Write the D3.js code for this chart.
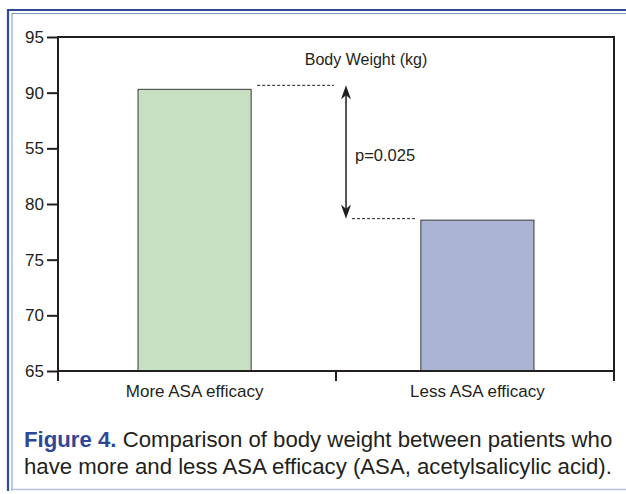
<!DOCTYPE html>
<html>
<head>
<meta charset="utf-8">
<script src="https://cdn.jsdelivr.net/npm/d3@7"></script>
<style>
  body { margin: 0; background: #fff; }
  svg { display: block; font-family: "Liberation Sans", Arial, sans-serif; }
</style>
</head>
<body>
<svg id="chart" width="626" height="494"></svg>
<script>
// Chart data
var categories = ["More ASA efficacy", "Less ASA efficacy"];
var weights = [90.3, 78.55];
var barColors = ["#c7e0c2", "#abb5d3"];
var yTicks = [65, 70, 75, 80, 85, 90, 95];
var yTickLabels = ["65", "70", "75", "80", "55", "90", "95"]; // as printed in the figure
var chartTitle = "Body Weight (kg)";
var pLabel = "p=0.025";

const width = 626;
const height = 494;

var svg = d3.select("#chart");

/**** Frame ****/
svg.append("line").attr("x1", 8).attr("x2", width).attr("y1", 10).attr("y2", 10)
    .attr("stroke", "#2d4a9c").attr("stroke-width", 2.2);
svg.append("line").attr("x1", 12).attr("x2", width).attr("y1", 13.5).attr("y2", 13.5)
    .attr("stroke", "#7c93cc").attr("stroke-width", 1);
svg.append("line").attr("x1", 8).attr("x2", 8).attr("y1", 9).attr("y2", 491)
    .attr("stroke", "#2d4a9c").attr("stroke-width", 2.2);
svg.append("line").attr("x1", 12).attr("x2", 12).attr("y1", 13).attr("y2", 491)
    .attr("stroke", "#7c93cc").attr("stroke-width", 1);
svg.append("line").attr("x1", 12).attr("x2", width).attr("y1", 489.5).attr("y2", 489.5)
    .attr("stroke", "#b7c3e3").attr("stroke-width", 1.5);

/**** Scales ****/
var plotLeft = 58, plotRight = 614, plotTop = 37, plotBottom = 371;

var yScale = d3.scaleLinear()
    .domain([65, 95])
    .range([plotBottom, plotTop]);

var xScale = d3.scaleBand()
    .domain(categories)
    .range([plotLeft, plotRight])
    .paddingInner(0.6)
    .paddingOuter(0.283);

var axisColor = "#231f20";
var textColor = "#231f20";

/**** Bars ****/
var chart = svg.append("g");

chart.selectAll(".bar")
    .data(categories)
    .enter()
    .append("rect")
    .attr("class", "bar")
    .attr("x", function(d) { return xScale(d); })
    .attr("y", function(d, i) { return yScale(weights[i]); })
    .attr("width", xScale.bandwidth())
    .attr("height", function(d, i) { return yScale(65) - yScale(weights[i]); })
    .attr("fill", function(d, i) { return barColors[i]; })
    .attr("stroke", "#3a3a3a")
    .attr("stroke-width", 1);

/**** Plot box ****/
chart.append("line").attr("x1", plotLeft).attr("x2", plotRight)
    .attr("y1", plotTop).attr("y2", plotTop)
    .attr("stroke", axisColor).attr("stroke-width", 2);
chart.append("line").attr("x1", plotRight).attr("x2", plotRight)
    .attr("y1", plotTop - 1).attr("y2", plotBottom + 10)
    .attr("stroke", axisColor).attr("stroke-width", 2);
chart.append("line").attr("x1", plotLeft).attr("x2", plotRight)
    .attr("y1", plotBottom).attr("y2", plotBottom)
    .attr("stroke", axisColor).attr("stroke-width", 2);

/**** Y Left Axis ****/
var yAxis = d3.axisLeft(yScale)
    .tickValues(yTicks)
    .tickSize(11)
    .tickPadding(3)
    .tickSizeOuter(0)
    .tickFormat(function(d, i) { return yTickLabels[i]; });

var yG = chart.append("g")
    .attr("transform", "translate(" + plotLeft + ",0)")
    .call(yAxis);
yG.select(".domain").remove();
yG.selectAll("line").attr("stroke", axisColor).attr("stroke-width", 2);
yG.selectAll("text").attr("font-size", 17).attr("fill", textColor)
    .attr("font-family", "Liberation Sans, Arial, sans-serif");
chart.append("line").attr("x1", plotLeft).attr("x2", plotLeft)
    .attr("y1", plotTop - 1).attr("y2", plotBottom + 10)
    .attr("stroke", axisColor).attr("stroke-width", 2);

/**** X Bottom Axis: tick between the two categories ****/
var midX = (xScale(categories[0]) + xScale(categories[1]) + xScale.bandwidth()) / 2;
chart.append("line")
    .attr("x1", midX).attr("x2", midX)
    .attr("y1", plotBottom)
    .attr("y2", plotBottom + 10)
    .attr("stroke", axisColor).attr("stroke-width", 2);

chart.selectAll(".xlabel")
    .data(categories)
    .enter()
    .append("text")
    .attr("x", function(d) { return xScale(d) + xScale.bandwidth() / 2; })
    .attr("y", plotBottom + 26)
    .attr("text-anchor", "middle")
    .attr("font-size", 17)
    .attr("fill", textColor)
    .text(function(d) { return d; });

/**** Annotation ****/
chart.append("text")
    .attr("x", midX + 30)
    .attr("y", yScale(93) + 6)
    .attr("text-anchor", "middle")
    .attr("font-size", 16)
    .attr("fill", textColor)
    .text(chartTitle);

var arrowX = midX + 10;
var yHigh = yScale(weights[0]) - 4;
var yLow = yScale(weights[1]) - 1.5;

chart.append("line")
    .attr("x1", xScale(categories[0]) + xScale.bandwidth() + 6)
    .attr("x2", arrowX - 12)
    .attr("y1", yHigh).attr("y2", yHigh)
    .attr("stroke", textColor).attr("stroke-width", 1)
    .attr("stroke-dasharray", "3,2");
chart.append("line")
    .attr("x1", arrowX + 6)
    .attr("x2", xScale(categories[1]) - 4)
    .attr("y1", yLow).attr("y2", yLow)
    .attr("stroke", textColor).attr("stroke-width", 1)
    .attr("stroke-dasharray", "3,2");

chart.append("line")
    .attr("x1", arrowX).attr("x2", arrowX)
    .attr("y1", yHigh + 8).attr("y2", yLow - 8)
    .attr("stroke", textColor).attr("stroke-width", 1.5);

function arrowHead(y, dir) {
    var p = [[arrowX, y], [arrowX - 5, y + dir * 14], [arrowX, y + dir * 10], [arrowX + 5, y + dir * 14]];
    chart.append("path")
        .attr("d", d3.line()(p) + "Z")
        .attr("fill", textColor);
}
arrowHead(yHigh, 1);
arrowHead(yLow, -1);

chart.append("text")
    .attr("x", arrowX + 9)
    .attr("y", (yHigh + yLow) / 2 + 9)
    .attr("font-size", 16.5)
    .attr("fill", textColor)
    .text(pLabel);

/**** Caption ****/
var cap1 = svg.append("text")
    .attr("x", 24).attr("y", 447)
    .attr("font-size", 22.2)
    .attr("fill", "#231f20");
cap1.append("tspan").attr("font-weight", "bold").attr("fill", "#2e4796").text("Figure 4.");
cap1.append("tspan").text(" Comparison of body weight between patients who");

svg.append("text")
    .attr("x", 24).attr("y", 474)
    .attr("font-size", 22.2)
    .attr("fill", "#231f20")
    .text("have more and less ASA efficacy (ASA, acetylsalicylic acid).");
</script>
</body>
</html>
